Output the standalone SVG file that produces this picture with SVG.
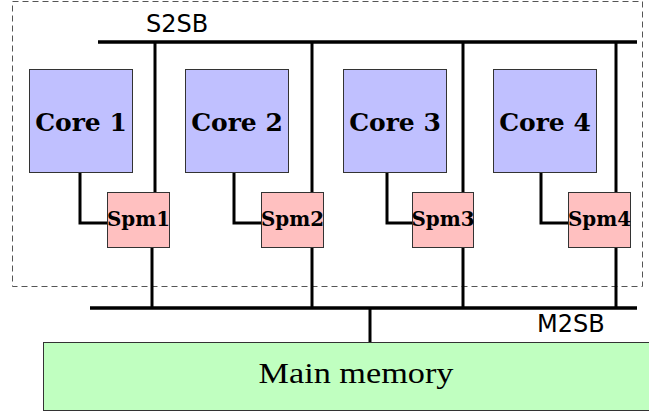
<svg xmlns="http://www.w3.org/2000/svg" width="649" height="412" viewBox="0 0 649 412">
<style>
.core{fill:#c0c0ff;stroke:#333;stroke-width:1}
.spm{fill:#ffc0c0;stroke:#333;stroke-width:1}
.mem{fill:#c0ffc0;stroke:#333;stroke-width:1}
.bus{stroke:#000;stroke-width:3.5;fill:none}
.wire{stroke:#000;stroke-width:3;fill:none}
.lbl{font-family:"DejaVu Serif","Liberation Serif",serif;font-weight:bold;text-anchor:middle;fill:#000}
.memlbl{font-family:"Liberation Serif","DejaVu Serif",serif;text-anchor:middle;fill:#000}
.sans{font-family:"DejaVu Sans","Liberation Sans",sans-serif;fill:#000;font-size:24px}
</style>
<rect x="12.5" y="1.5" width="630" height="285" fill="none" stroke="#555" stroke-width="1" stroke-dasharray="6 4"/>
<g id="connectors">
<line class="bus" x1="98" y1="42" x2="637" y2="42"/>
<line class="bus" x1="90" y1="308" x2="637" y2="308"/>
<line class="wire" x1="155" y1="42" x2="155" y2="192"/>
<line class="wire" x1="312" y1="42" x2="312" y2="192"/>
<line class="wire" x1="463" y1="42" x2="463" y2="192"/>
<line class="wire" x1="616" y1="42" x2="616" y2="192"/>
<polyline class="wire" points="80,172 80,223 107,223"/>
<polyline class="wire" points="234,172 234,223 261,223"/>
<polyline class="wire" points="387,172 387,223 412,223"/>
<polyline class="wire" points="541,172 541,223 568,223"/>
<line class="wire" x1="152" y1="247" x2="152" y2="308"/>
<line class="wire" x1="312" y1="247" x2="312" y2="308"/>
<line class="wire" x1="463" y1="247" x2="463" y2="308"/>
<line class="wire" x1="616" y1="247" x2="616" y2="308"/>
<line class="wire" x1="370" y1="308" x2="370" y2="342"/>
</g>
<text class="sans" x="146" y="32">S2SB</text>
<text class="sans" x="537" y="332">M2SB</text>
<g id="core1"><rect class="core" x="29.5" y="69.5" width="103" height="103"/><text class="lbl" x="81" y="131" font-size="25">Core 1</text></g>
<g id="core2"><rect class="core" x="185.5" y="69.5" width="103" height="103"/><text class="lbl" x="237" y="131" font-size="25">Core 2</text></g>
<g id="core3"><rect class="core" x="343.5" y="69.5" width="103" height="103"/><text class="lbl" x="395" y="131" font-size="25">Core 3</text></g>
<g id="core4"><rect class="core" x="493.5" y="69.5" width="103" height="103"/><text class="lbl" x="545" y="131" font-size="25">Core 4</text></g>
<g id="spm1"><rect class="spm" x="107.5" y="192.5" width="62" height="55"/><text class="lbl" x="138.5" y="226" font-size="20" textLength="63" lengthAdjust="spacingAndGlyphs">Spm1</text></g>
<g id="spm2"><rect class="spm" x="261.5" y="192.5" width="62" height="55"/><text class="lbl" x="292.5" y="226" font-size="20" textLength="63" lengthAdjust="spacingAndGlyphs">Spm2</text></g>
<g id="spm3"><rect class="spm" x="412.5" y="192.5" width="61" height="55"/><text class="lbl" x="443" y="226" font-size="20" textLength="63" lengthAdjust="spacingAndGlyphs">Spm3</text></g>
<g id="spm4"><rect class="spm" x="568.5" y="192.5" width="62" height="55"/><text class="lbl" x="599.5" y="226" font-size="20" textLength="63" lengthAdjust="spacingAndGlyphs">Spm4</text></g>
<g id="memory"><rect class="mem" x="43.5" y="342.5" width="620" height="68"/><text class="memlbl" x="356" y="383" font-size="29" textLength="195" lengthAdjust="spacingAndGlyphs">Main memory</text></g>
</svg>
